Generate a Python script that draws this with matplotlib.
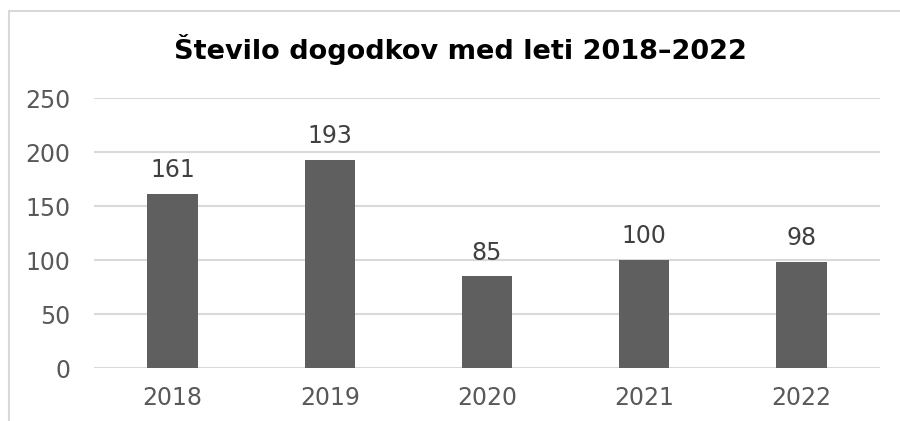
"""Bar chart: number of events per year, 2018-2022 (Excel-like style)."""

import matplotlib

matplotlib.use("Agg")

import matplotlib.pyplot as plt
from matplotlib.patches import Rectangle

years = ["2018", "2019", "2020", "2021", "2022"]
events = [161, 193, 85, 100, 98]
y_ticks = [0, 50, 100, 150, 200, 250]
title = "Število dogodkov med leti 2018–2022"

W, H = 900, 421
BAR_COLOR = "#5f5f5f"
GRID_COLOR = "#d9d9d9"
TICK_COLOR = "#595959"
LABEL_COLOR = "#404040"

plt.rcParams["font.family"] = ["DejaVu Sans"]

fig = plt.figure(figsize=(W / 100, H / 100), dpi=100)
ax = fig.add_axes([94 / W, 1 - 368 / H, (880 - 94) / W, (368 - 98) / H])

x = range(len(years))
ax.bar(x, events, width=0.32, color=BAR_COLOR, zorder=3)
for xi, value in zip(x, events):
    ax.annotate(
        str(value),
        (xi, value),
        xytext=(0, 12),
        textcoords="offset points",
        ha="center",
        va="baseline",
        fontsize=17,
        color=LABEL_COLOR,
    )

ax.set_xlim(-0.5, len(years) - 0.5)
ax.set_ylim(0, 250)
ax.set_xticks(list(x), labels=years)
ax.set_yticks(y_ticks)
ax.tick_params(axis="both", length=0, labelsize=17, labelcolor=TICK_COLOR)
ax.tick_params(axis="x", pad=13)
ax.tick_params(axis="y", pad=17)
ax.grid(axis="y", color=GRID_COLOR, linewidth=1.5, zorder=0)
for spine in ax.spines.values():
    spine.set_visible(False)

fig.text(
    460 / W,
    1 - 59 / H,
    title,
    ha="center",
    va="baseline",
    fontsize=19.5,
    fontweight="bold",
    color="black",
)

# chart-area border; its right and bottom edges fall outside the crop
fig.add_artist(
    Rectangle(
        (9 / W, -0.2),
        1.2,
        1.2 - 11 / H,
        transform=fig.transFigure,
        fill=False,
        edgecolor=GRID_COLOR,
        linewidth=1.5,
    )
)

fig.savefig("out.png", dpi=100)
